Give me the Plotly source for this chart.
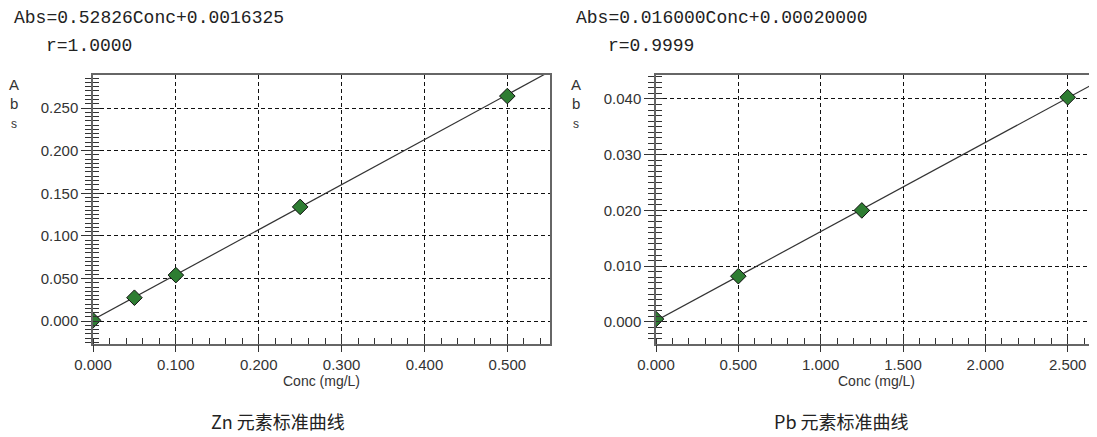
import plotly.graph_objects as go

# ---- data ----
zn_conc = [0.0, 0.05, 0.10, 0.25, 0.50]
zn_abs = [0.001, 0.0275, 0.054, 0.134, 0.264]
zn_fit_x = [0.0, 0.552]
zn_fit_y = [0.00163, 0.29323]
zn_equation = "Abs=0.52826Conc+0.0016325"
zn_r = "r=1.0000"
zn_caption = "Zn 元素标准曲线"

pb_conc = [0.0, 0.5, 1.25, 2.5]
pb_abs = [0.0005, 0.0082, 0.0200, 0.0403]
pb_fit_x = [0.0, 2.68]
pb_fit_y = [0.0002, 0.04308]
pb_equation = "Abs=0.016000Conc+0.00020000"
pb_r = "r=0.9999"
pb_caption = "Pb 元素标准曲线"

x_title = "Conc (mg/L)"
y_title_letters = "Abs"

# page body has an 8px margin: size the figure so the page does not overflow
OFF = 8
W, H = 1097 - OFF, 437 - OFF


def px(x):
    return (x - OFF) / W


def py(y):
    return 1 - (y - OFF) / H


TICKFONT = dict(family="Liberation Sans, Arial, sans-serif", size=15, color="#333333")
GRIDDASH = "4px,3px"
MARKER = dict(symbol="diamond", size=12, color="#2E7D32", line=dict(color="#111111", width=1))

fig = go.Figure()

# Zn
fig.add_trace(go.Scatter(x=zn_fit_x, y=zn_fit_y, mode="lines",
                         line=dict(color="#333333", width=1.2),
                         xaxis="x", yaxis="y", showlegend=False, hoverinfo="skip"))
fig.add_trace(go.Scatter(x=zn_conc, y=zn_abs, mode="markers", marker=MARKER,
                         xaxis="x", yaxis="y", showlegend=False, cliponaxis=True))
# Pb
fig.add_trace(go.Scatter(x=pb_fit_x, y=pb_fit_y, mode="lines",
                         line=dict(color="#333333", width=1.2),
                         xaxis="x2", yaxis="y2", showlegend=False, hoverinfo="skip"))
fig.add_trace(go.Scatter(x=pb_conc, y=pb_abs, mode="markers", marker=MARKER,
                         xaxis="x2", yaxis="y2", showlegend=False, cliponaxis=True))
# dummy traces for overlay tick axes
fig.add_trace(go.Scatter(x=[None], y=[None], xaxis="x3", yaxis="y3", showlegend=False))
fig.add_trace(go.Scatter(x=[None], y=[None], xaxis="x4", yaxis="y4", showlegend=False))

zn_xr = [0, 0.5515]
zn_yr = [-0.0262, 0.2887]
pb_xr = [0, 2.678]
pb_yr = [-0.00388, 0.0443]

zn_xdom = [px(93), px(550)]
pb_xdom = [px(656), 1.0]
ydom = [py(343.5), py(75)]

AXFONT = dict(family="Liberation Sans, Arial, sans-serif", size=14, color="#333333")


def main_x(dom, rng, dtick, minor_dtick, anchor, mirror):
    return dict(domain=dom, range=rng, anchor=anchor, dtick=dtick, tick0=0,
                tickformat=".3f", tickfont=TICKFONT, automargin=False,
                ticks="outside", ticklen=7, tickwidth=1, tickcolor="#333333",
                showgrid=True, gridcolor="#111111", gridwidth=1, griddash=GRIDDASH,
                showline=True, linecolor="#666666", linewidth=1.5, mirror=mirror,
                zeroline=False,
                minor=dict(ticks="inside", ticklen=6, dtick=minor_dtick, tick0=0,
                           tickcolor="#333333", tickwidth=1, showgrid=False),
                title=dict(text=x_title, font=AXFONT, standoff=2),
                fixedrange=True)


def main_y(dom, rng, dtick, minor_dtick, anchor, mirror):
    return dict(domain=dom, range=rng, anchor=anchor, dtick=dtick, tick0=0,
                tickformat=".3f", tickfont=TICKFONT, automargin=False,
                ticks="outside", ticklen=10, tickwidth=1, tickcolor="#333333",
                showgrid=True, gridcolor="#111111", gridwidth=1, griddash=GRIDDASH,
                showline=True, linecolor="#666666", linewidth=1.5, mirror=mirror,
                zeroline=False,
                minor=dict(ticks="outside", ticklen=6, dtick=minor_dtick, tick0=0,
                           tickcolor="#333333", tickwidth=1, showgrid=False),
                fixedrange=True)


def over_x(over, rng, dtick, anchor):
    return dict(overlaying=over, anchor=anchor, range=rng, dtick=dtick, tick0=0,
                ticks="inside", ticklen=9, tickwidth=1, tickcolor="#333333",
                showticklabels=False, showgrid=False, showline=False, zeroline=False,
                automargin=False, fixedrange=True)


def over_y(over, rng, dtick, minor_dtick, anchor):
    return dict(overlaying=over, anchor=anchor, range=rng, dtick=dtick, tick0=0,
                ticks="inside", ticklen=7, tickwidth=1, tickcolor="#333333",
                showticklabels=False, showgrid=False, showline=False, zeroline=False,
                minor=dict(ticks="inside", ticklen=6, dtick=minor_dtick, tick0=0,
                           tickcolor="#333333", tickwidth=1, showgrid=False),
                automargin=False, fixedrange=True)


fig.update_layout(
    width=W, height=H, autosize=False,
    margin=dict(l=0, r=0, t=0, b=0, pad=0),
    paper_bgcolor="white", plot_bgcolor="white",
    showlegend=False,
    xaxis=main_x(zn_xdom, zn_xr, 0.1, 0.02, "y", True),
    yaxis=main_y(ydom, zn_yr, 0.05, 0.005, "x", True),
    xaxis2=main_x(pb_xdom, pb_xr, 0.5, 0.1, "y2", True),
    yaxis2=main_y(ydom, pb_yr, 0.01, 0.001, "x2", False),
    xaxis3=over_x("x", zn_xr, 0.1, "y3"),
    yaxis3=over_y("y", zn_yr, 0.05, 0.005, "x3"),
    xaxis4=over_x("x2", pb_xr, 0.5, "y4"),
    yaxis4=over_y("y2", pb_yr, 0.01, 0.001, "x4"),
)

MONO = dict(family="Liberation Mono, Courier New, monospace", size=18, color="#222222")
ann = []
for eq, r, x0, x1 in [(zn_equation, zn_r, 12, 44), (pb_equation, pb_r, 574, 606)]:
    ann.append(dict(text=eq, x=px(x0), y=py(18), xref="paper", yref="paper",
                    xanchor="left", yanchor="middle", showarrow=False, font=MONO))
    ann.append(dict(text=r, x=px(x1), y=py(46), xref="paper", yref="paper",
                    xanchor="left", yanchor="middle", showarrow=False, font=MONO))

for xc in (14, 576):
    for i, ch in enumerate(y_title_letters):
        ann.append(dict(text=ch, x=px(xc), y=py(84 + i * 20), xref="paper", yref="paper",
                        xanchor="center", yanchor="middle", showarrow=False,
                        font=dict(family="Liberation Sans, Arial, sans-serif",
                                  size=15 if ch != "s" else 12, color="#333333")))

CAP = dict(family="Noto Sans CJK SC, sans-serif", size=18, color="#222222")
ann.append(dict(text=zn_caption, x=px(278), y=py(421), xref="paper", yref="paper",
                xanchor="center", yanchor="middle", showarrow=False, font=CAP))
ann.append(dict(text=pb_caption, x=px(841), y=py(421), xref="paper", yref="paper",
                xanchor="center", yanchor="middle", showarrow=False, font=CAP))

fig.update_layout(annotations=ann)

fig.write_html("out.html")
